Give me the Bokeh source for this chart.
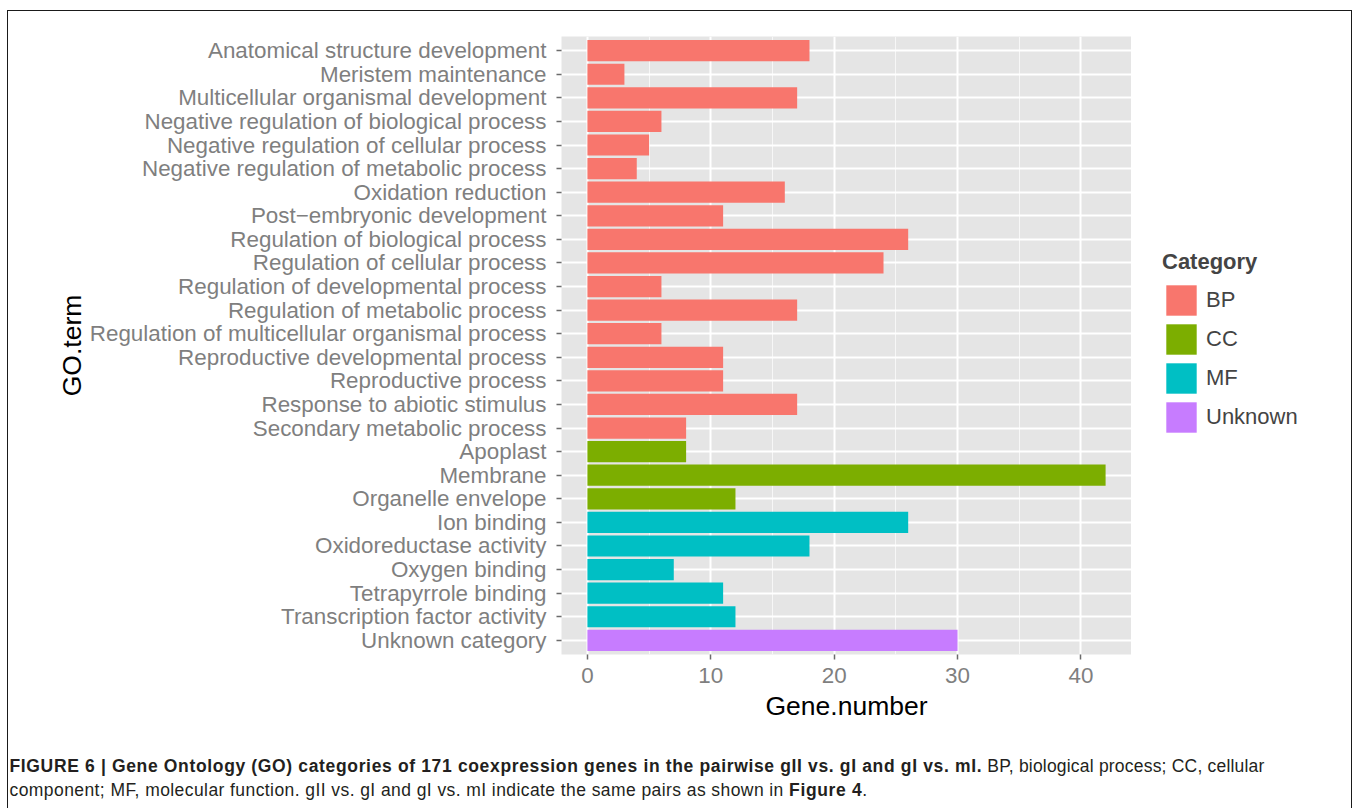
from bokeh.plotting import figure
from bokeh.models import (ColumnDataSource, FactorRange, Range1d, FixedTicker, Div,
                          Legend, LegendItem)
from bokeh.layouts import column, row
from bokeh.transform import factor_cmap
from bokeh.embed import file_html
from bokeh.resources import INLINE

# GO terms in display order (top to bottom), their gene counts and category
terms = [
    "Anatomical structure development",
    "Meristem maintenance",
    "Multicellular organismal development",
    "Negative regulation of biological process",
    "Negative regulation of cellular process",
    "Negative regulation of metabolic process",
    "Oxidation reduction",
    "Post\u2212embryonic development",
    "Regulation of biological process",
    "Regulation of cellular process",
    "Regulation of developmental process",
    "Regulation of metabolic process",
    "Regulation of multicellular organismal process",
    "Reproductive developmental process",
    "Reproductive process",
    "Response to abiotic stimulus",
    "Secondary metabolic process",
    "Apoplast",
    "Membrane",
    "Organelle envelope",
    "Ion binding",
    "Oxidoreductase activity",
    "Oxygen binding",
    "Tetrapyrrole binding",
    "Transcription factor activity",
    "Unknown category",
]
gene_number = [18, 3, 17, 6, 5, 4, 16, 11, 26, 24, 6, 17, 6, 11, 11, 17, 8,
               8, 42, 12,
               26, 18, 7, 11, 12,
               30]
category = ["BP"] * 17 + ["CC"] * 3 + ["MF"] * 5 + ["Unknown"]

categories = ["BP", "CC", "MF", "Unknown"]
category_colors = ["#F8766D", "#7CAE00", "#00BFC4", "#C77CFF"]

x_ticks = [0, 10, 20, 30, 40]
x_minor_ticks = [5, 15, 25, 35]

BOLD = '<b style="letter-spacing:0.65px">'
caption_html = (
    BOLD + "FIGURE 6 | Gene Ontology (GO) categories of 171 coexpression genes in the "
    "pairwise gII vs. gI and gI vs. mI.</b>"
    '<span style="letter-spacing:0.2px"> BP, biological process; CC, cellular</span><br>'
    "component; MF, molecular function. gII vs. gI and gI vs. mI indicate the same "
    "pairs as shown in " + BOLD + "Figure 4</b>."
)

FONT = "Liberation Sans"
source = ColumnDataSource(dict(term=terms, n=gene_number, cat=category))

xmax = max(gene_number)
pad = 0.05 * xmax

# ---- main bar chart -------------------------------------------------------
p = figure(width=1123, height=728,
           y_range=FactorRange(*reversed(terms), range_padding=0.2 / len(terms)),
           x_range=Range1d(-pad, xmax + pad),
           output_backend="svg", toolbar_location=None,
           min_border_left=553, min_border_right=0,
           min_border_top=25, min_border_bottom=85, margin=0)

p.background_fill_color = "#E5E5E5"
p.border_fill_color = "white"
p.outline_line_color = None

p.hbar(y="term", left=0, right="n", height=0.9, source=source,
       fill_color=factor_cmap("cat", category_colors, categories),
       line_color=None)

p.xaxis.ticker = FixedTicker(ticks=x_ticks, minor_ticks=x_minor_ticks)
p.xgrid.grid_line_color = "white"
p.xgrid.grid_line_width = 2
p.xgrid.minor_grid_line_color = "#F7F7F7"
p.xgrid.minor_grid_line_width = 1
p.ygrid.grid_line_color = "white"
p.ygrid.grid_line_width = 2

for ax in (p.xaxis[0], p.yaxis[0]):
    ax.axis_line_color = None
    ax.major_tick_line_color = "#6b6b6b"
    ax.major_tick_line_width = 1.5
    ax.major_tick_out = 5
    ax.major_tick_in = 0
    ax.minor_tick_line_color = None
    ax.major_label_text_font = FONT
    ax.major_label_text_font_size = "22.4px"
    ax.major_label_text_color = "#7F7F7F"
    ax.axis_label_text_font = FONT
    ax.axis_label_text_font_size = "26.5px"
    ax.axis_label_text_font_style = "normal"
    ax.axis_label_text_color = "black"

p.yaxis.major_label_standoff = 10
p.xaxis.major_label_standoff = 8
p.xaxis.axis_label = "Gene.number"
p.yaxis.axis_label = "GO.term"
p.xaxis.axis_label_standoff = 5
p.yaxis.axis_label_standoff = 0

# ---- legend panel -----------------------------------------------------------
# one hidden swatch renderer per category feeds the legend keys
pl = figure(width=220, height=728, x_range=Range1d(0, 1),
            y_range=Range1d(-0.5, len(categories) - 0.5),
            output_backend="svg", toolbar_location=None,
            x_axis_location=None, y_axis_location=None,
            min_border_left=0, min_border_right=0, min_border_top=25,
            min_border_bottom=85, margin=0)
pl.grid.visible = False
pl.outline_line_color = None
pl.background_fill_color = "white"
pl.border_fill_color = "white"

items = []
for i, (cat, col) in enumerate(zip(categories, category_colors)):
    r = pl.hbar(y=[i], left=0, right=1, height=0.9, fill_color=col,
                line_color=None)
    r.visible = False
    items.append(LegendItem(label=cat, renderers=[r]))

legend = Legend(items=items, location=(31, 218), title="Category",
                title_text_font=FONT, title_text_font_size="22px",
                title_text_font_style="bold", title_standoff=6,
                label_text_font=FONT, label_text_font_size="22px",
                glyph_width=38, glyph_height=38, label_height=38,
                label_standoff=6, spacing=1, padding=0, margin=0,
                border_line_color=None, background_fill_alpha=0,
                inactive_fill_alpha=0)
pl.add_layout(legend)

caption = Div(text=caption_html, width=1340, height=69, margin=0,
              styles={"font-family": "'Liberation Sans', Arial, sans-serif",
                      "font-size": "17.5px", "letter-spacing": "0.42px",
                      "line-height": "24px", "color": "#231f20",
                      "padding-top": "15px", "padding-left": "1.5px",
                      "white-space": "nowrap"})

page = column(row(p, pl, spacing=0, margin=0), caption,
              margin=(10, 0, 0, 7), spacing=0,
              styles={"border-top": "1.5px solid #1a1a1a",
                      "border-left": "1.5px solid #1a1a1a",
                      "border-right": "1.5px solid #1a1a1a"})

open("out.html", "w").write(file_html(page, INLINE))
